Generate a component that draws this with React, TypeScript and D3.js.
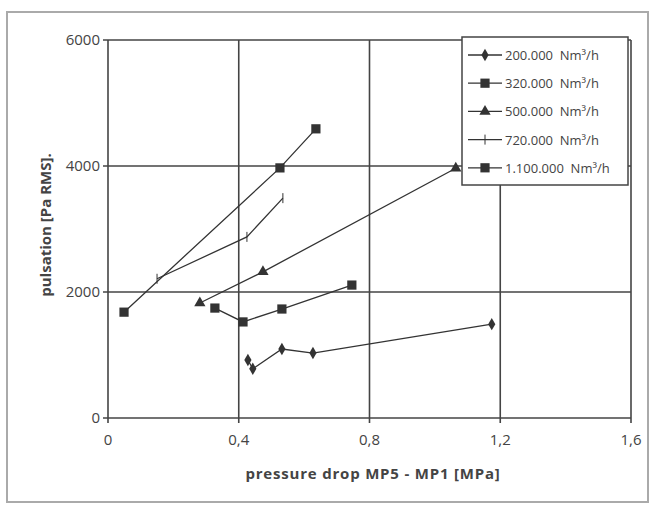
import React from 'react';
import * as d3 from 'd3';

const seriesNames = ['200.000  Nm³/h', '320.000  Nm³/h', '500.000  Nm³/h', '720.000  Nm³/h', '1.100.000  Nm³/h'];
const markers = ['diamond', 'square', 'triangle', 'bar', 'square'];

const s200x = [0.428, 0.443, 0.532, 0.627, 1.174];
const s200y = [920, 780, 1095, 1030, 1490];
const s320x = [0.327, 0.413, 0.532, 0.746];
const s320y = [1745, 1525, 1730, 2110];
const s500x = [0.281, 0.474, 1.064];
const s500y = [1825, 2320, 3965];
const s720x = [0.15, 0.425, 0.535];
const s720y = [2210, 2875, 3490];
const s1100x = [0.049, 0.526, 0.636];
const s1100y = [1680, 3970, 4590];

const xTicks = [0, 0.4, 0.8, 1.2, 1.6];
const yTicks = [0, 2000, 4000, 6000];

const W = 658;
const H = 509;
const INK = '#333';
const FONT = '"Open Sans", "DejaVu Sans", sans-serif';

const xScale = d3.scaleLinear().domain([0, 1.6]).range([108, 631]);
const yScale = d3.scaleLinear().domain([0, 6000]).range([418, 40]);

const allSeries = [
    [s200x, s200y],
    [s320x, s320y],
    [s500x, s500y],
    [s720x, s720y],
    [s1100x, s1100y]
].map(([xs, ys], i) => ({
    name: seriesNames[i],
    marker: markers[i],
    points: xs.map((x, j) => [x, ys[j]] as [number, number])
}));

function Marker({ kind, x, y }: { kind: string; x: number; y: number }) {
    if (kind === 'bar') {
        return <line x1={x} x2={x} y1={y - 5} y2={y + 5} stroke={INK} strokeWidth={1} />;
    }
    const type = kind === 'diamond' ? d3.symbolDiamond : kind === 'triangle' ? d3.symbolTriangle : d3.symbolSquare;
    const size = kind === 'diamond' ? 45 : kind === 'triangle' ? 55 : 85;
    const path = d3.symbol().type(type).size(size)() || '';
    return <path d={path} transform={`translate(${x},${y})`} fill={INK} />;
}

export default function App() {
    const line = d3.line<[number, number]>()
        .x(d => xScale(d[0]))
        .y(d => yScale(d[1]));

    const fmt = (v: number) => (v === 0 ? '0' : String(v).replace('.', ','));

    return (
        <svg width={W} height={H} style={{ position: 'absolute', left: 0, top: 0, background: '#fff' }}
            fontFamily={FONT}>
            <rect x={7} y={12} width={641} height={490} fill="none" stroke="#aaa" strokeWidth={2} />

            {/* grid */}
            {xTicks.map(t => (
                <g key={'x' + t}>
                    <line x1={xScale(t)} x2={xScale(t)} y1={yScale(6000)} y2={yScale(0) + 5}
                        stroke="#444" strokeWidth={1.6} />
                    <text x={xScale(t)} y={445} textAnchor="middle" fontSize={15} fill="#444">{fmt(t)}</text>
                </g>
            ))}
            {yTicks.map(t => (
                <g key={'y' + t}>
                    <line x1={xScale(0) - 5} x2={xScale(1.6)} y1={yScale(t)} y2={yScale(t)}
                        stroke="#444" strokeWidth={1.6} />
                    <text x={xScale(0) - 8} y={yScale(t) + 5} textAnchor="end" fontSize={15} fill="#444">{t}</text>
                </g>
            ))}

            {/* series */}
            {allSeries.map(s => (
                <g key={s.name}>
                    <path d={line(s.points) || ''} fill="none" stroke={INK} strokeWidth={1.3} />
                    {s.points.map((p, j) => (
                        <Marker key={j} kind={s.marker} x={xScale(p[0])} y={yScale(p[1])} />
                    ))}
                </g>
            ))}

            {/* legend */}
            <rect x={462} y={37} width={166} height={148} fill="#fff" stroke="#444" strokeWidth={1.5} />
            {allSeries.map((s, i) => {
                const ly = 55 + i * 28.2;
                return (
                    <g key={'lg' + i}>
                        <line x1={468} x2={502} y1={ly} y2={ly} stroke={INK} strokeWidth={1.3} />
                        <Marker kind={s.marker} x={485} y={ly} />
                        <text x={505} y={ly + 5} fontSize={13} fill="#444" style={{ whiteSpace: 'pre' }}>{s.name}</text>
                    </g>
                );
            })}

            {/* axis titles */}
            <text x={373} y={479} textAnchor="middle" fontSize={15} fontWeight="bold" fill="#444"
                letterSpacing={0.8}>
                pressure drop MP5 - MP1 [MPa]
            </text>
            <text transform={`translate(51,225) rotate(-90)`} textAnchor="middle" fontSize={15}
                fontWeight="bold" fill="#444">
                pulsation [Pa RMS].
            </text>
        </svg>
    );
}
